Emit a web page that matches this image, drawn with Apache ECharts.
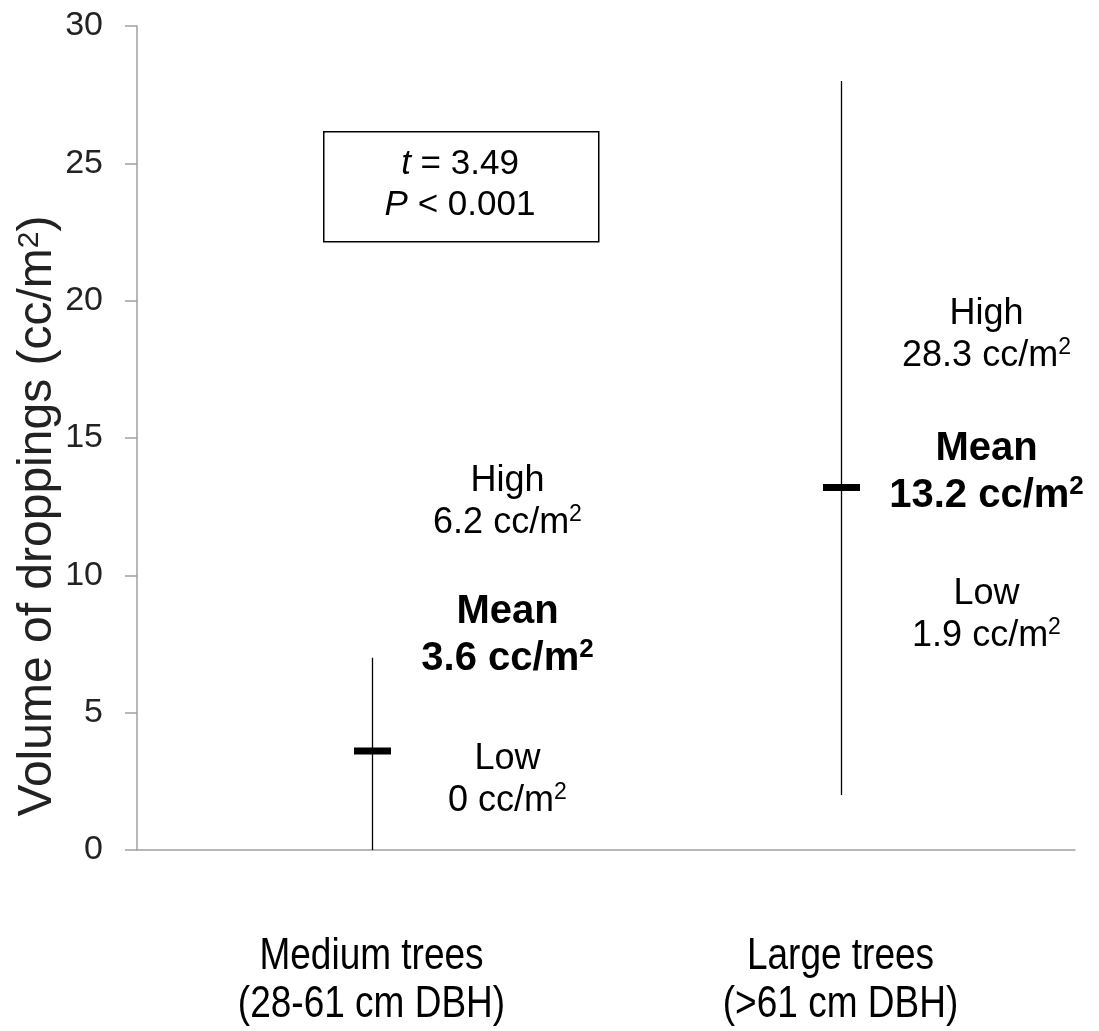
<!DOCTYPE html>
<html>
<head>
<meta charset="utf-8">
<script src="https://cdn.jsdelivr.net/npm/echarts@6/dist/echarts.min.js"></script>
<style>
html,body{margin:0;padding:0;background:#fff;}
#chart{width:1099px;height:1031px;}
</style>
</head>
<body>
<div id="chart"></div>
<script>
// ---- data ----
const categories = ['Medium trees\n(28-61 cm DBH)', 'Large trees\n(>61 cm DBH)'];
const lowValues = [0, 2.0];
const highValues = [7.0, 28.0];
const meanValues = [3.6, 13.2];
const yMin = 0, yMax = 30, yStep = 5;
const yAxisTitle = 'Volume of droppings (cc/m';
const yAxisTitleSup = '2';
const yAxisTitleEnd = ')';

// annotation texts (anchored at category / value)
const noteCategory = [0, 0, 0, 1, 1, 1];
const noteValue = [12.65, 7.8, 2.55, 18.75, 13.75, 8.55];
const noteTitle = ['High', 'Mean', 'Low', 'High', 'Mean', 'Low'];
const noteAmount = ['6.2 cc/m', '3.6 cc/m', '0 cc/m', '28.3 cc/m', '13.2 cc/m', '1.9 cc/m'];
const noteSup = ['2', '2', '2', '2', '2', '2'];
const noteBold = [false, true, false, false, true, false];

const statName1 = 't', statText1 = ' = 3.49';
const statName2 = 'P', statText2 = ' < 0.001';

// ---- styling ----
const FONT = '"Liberation Sans", Arial, Helvetica, sans-serif';
const noteOffsetX = [136, 146];

const rangeData = categories.map((c, i) => [i, lowValues[i], highValues[i], meanValues[i]]);
const noteData = noteCategory.map((c, i) => [c, noteValue[i], i]);
const catLabelData = categories.map((c, i) => [i, 0]);

function supRich(size, weight) {
  const s = Math.round(size * 0.64);
  return {
    n: {fontFamily: FONT, fontSize: size, fontWeight: weight, fill: '#000', lineHeight: size + 6},
    s: {fontFamily: FONT, fontSize: s, fontWeight: weight, fill: '#000', lineHeight: s, verticalAlign: 'top', padding: [1, 0, 0, 0]}
  };
}

const chart = echarts.init(document.getElementById('chart'), null, {renderer: 'canvas'});
chart.setOption({
  backgroundColor: '#fff',
  animation: false,
  grid: {left: 137, right: 24, top: 26, bottom: 181, containLabel: false},
  xAxis: {
    type: 'category',
    data: categories,
    boundaryGap: true,
    axisLine: {show: true, lineStyle: {color: '#a0a0a0', width: 1.5}},
    axisTick: {show: false},
    axisLabel: {show: false},
    splitLine: {show: false}
  },
  yAxis: {
    type: 'value',
    min: yMin, max: yMax, interval: yStep,
    axisLine: {show: true, lineStyle: {color: '#a0a0a0', width: 1.5}},
    axisTick: {show: true, length: 12, lineStyle: {color: '#a0a0a0', width: 1.5}},
    axisLabel: {margin: 34, color: '#222', fontFamily: FONT, fontSize: 34},
    splitLine: {show: false}
  },
  series: [
    {
      type: 'custom',
      name: 'range',
      data: rangeData,
      renderItem: function (params, api) {
        const cat = api.value(0);
        const lo = api.coord([cat, api.value(1)]);
        const hi = api.coord([cat, api.value(2)]);
        const mn = api.coord([cat, api.value(3)]);
        const x = Math.round(lo[0]) + 0.5;
        return {
          type: 'group',
          children: [
            {type: 'line', shape: {x1: x, y1: lo[1], x2: x, y2: hi[1]},
             style: {stroke: '#000', lineWidth: 1.3}},
            {type: 'rect', shape: {x: x - 18.5, y: mn[1] - 3.5, width: 37, height: 7},
             style: {fill: '#000'}}
          ]
        };
      }
    },
    {
      type: 'custom',
      name: 'categoryLabels',
      data: catLabelData,
      clip: false,
      renderItem: function (params, api) {
        const cat = api.value(0);
        const p = api.coord([cat, api.value(1)]);
        return {
          type: 'text',
          x: p[0],
          y: p[1] + 131,
          scaleY: 1.2,
          style: {
            text: categories[cat],
            fill: '#000',
            fontFamily: FONT,
            fontSize: 37,
            lineHeight: 40,
            align: 'center',
            verticalAlign: 'middle'
          }
        };
      }
    },
    {
      type: 'custom',
      name: 'notes',
      data: noteData,
      renderItem: function (params, api) {
        const cat = api.value(0);
        const idx = api.value(2);
        const p = api.coord([cat, api.value(1)]);
        const bold = noteBold[idx];
        const size = bold ? 40 : 36;
        const w = bold ? 'bold' : 'normal';
        const rich = supRich(size, w);
        rich.n.lineHeight = bold ? 47 : 42;
        return {
          type: 'text',
          x: p[0] + noteOffsetX[cat],
          y: p[1],
          style: {
            text: '{n|' + noteTitle[idx] + '}\n{n|' + noteAmount[idx] + '}{s|' + noteSup[idx] + '}',
            fill: '#000',
            fontFamily: FONT,
            fontSize: size,
            fontWeight: w,
            rich: rich,
            align: 'center',
            verticalAlign: 'middle'
          }
        };
      }
    }
  ],
  graphic: [
    {type: 'rect', left: 323, top: 131, shape: {width: 275, height: 110},
     style: {fill: '#fff', stroke: '#000', lineWidth: 1.5}, z: 10},
    {type: 'text', x: 460, y: 164, z: 11,
     style: {
       text: '{i|' + statName1 + '}{n|' + statText1 + '}', fill: '#000', align: 'center', verticalAlign: 'middle',
       rich: {i: {fontStyle: 'italic', fontFamily: FONT, fontSize: 35, fill: '#000'},
              n: {fontFamily: FONT, fontSize: 35, fill: '#000'}}
     }},
    {type: 'text', x: 460, y: 205, z: 11,
     style: {
       text: '{i|' + statName2 + '}{n|' + statText2 + '}', fill: '#000', align: 'center', verticalAlign: 'middle',
       rich: {i: {fontStyle: 'italic', fontFamily: FONT, fontSize: 35, fill: '#000'},
              n: {fontFamily: FONT, fontSize: 35, fill: '#000'}}
     }},
    {type: 'text', x: 38, y: 516, rotation: Math.PI / 2, z: 11,
     style: {
       text: '{n|' + yAxisTitle + '}{s|' + yAxisTitleSup + '}{n|' + yAxisTitleEnd + '}',
       align: 'center', verticalAlign: 'middle',
       rich: {
         n: {fontFamily: FONT, fontSize: 48, fill: '#222', lineHeight: 54},
         s: {fontFamily: FONT, fontSize: 30, fill: '#222', lineHeight: 30, verticalAlign: 'top', padding: [4, 0, 0, 0]}
       }
     }}
  ]
});
</script>
</body>
</html>
